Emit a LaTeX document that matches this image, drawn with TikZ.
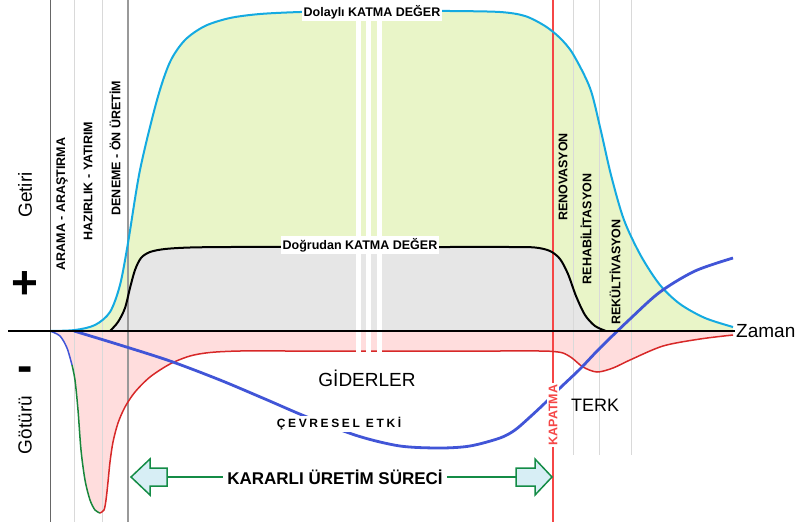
\documentclass[tikz,border=0pt]{standalone}
\usepackage{fontspec}
\setmainfont{Liberation Sans}
\newfontfamily\spacedfont[LetterSpace=22]{Liberation Sans}

\definecolor{dolayli}{RGB}{20,170,225}
\definecolor{dolaylifill}{RGB}{233,245,200}
\definecolor{dogrudanfill}{RGB}{230,230,230}
\definecolor{giderfill}{RGB}{255,221,221}
\definecolor{gider}{RGB}{215,40,40}
\definecolor{cevre}{RGB}{65,85,215}
\definecolor{yatirim}{RGB}{25,135,60}
\definecolor{kapatma}{RGB}{245,70,70}
\definecolor{surec}{RGB}{20,140,70}
\definecolor{surecfill}{RGB}{215,238,245}

\tikzset{
	phase/.style={rotate=90, inner sep=1pt, font=\bfseries\fontsize{12.5}{14}\selectfont},
	tag/.style={fill=white, inner sep=2pt, font=\bfseries\fontsize{12.5}{14}\selectfont},
	side/.style={rotate=90, inner sep=1pt, font=\fontsize{19}{21}\selectfont},
	divider/.style={draw=black!15, line width=1pt},
	curve/.style={line width=2pt, line join=round},
	arrowhead/.style={draw=surec, fill=surecfill, line width=1.5pt, line join=miter}
}

\def\dolaylipts{(50,331) (75,330) (95,325) (110,312) (120,285) (128,243) (140,170) (157,100) (170,62) (185,40) (205,26) (230,18) (260,14) (300,12) (350,11) (400,11) (450,11) (500,12) (525,16) (545,26) (560,38) (573,54) (590,88) (600,127) (611,175) (624,220) (641,256) (660,285) (680,304) (705,318) (733,327)}
\def\dogrudanpts{(110,331) (118,322) (125,308) (130,288) (135,270) (141,258) (150,252) (165,249) (190,247.5) (230,247) (300,247) (370,247) (440,247) (510,247) (535,247.5) (550,251) (560,259) (568,274) (576,296) (585,315) (595,326) (606,331)}
\def\giderpts{(100,513) (104,510) (106,500) (108,482) (110,462) (113,442) (118,423) (125,407) (135,392) (150,377) (170,364) (190,356) (210,352.5) (240,351) (290,351) (350,351) (420,351) (490,351) (540,351) (553,351.5) (563,353) (572,358) (583,367) (597,372) (613,368) (630,360) (663,346) (700,339) (733,335)}

\begin{document}
\begin{tikzpicture}[x=1pt,y=-1pt]
	\useasboundingbox (0,0) rectangle (802,522);

	% value areas above the time axis, cost area below
	\fill[dolaylifill] plot[smooth] coordinates {\dolaylipts} -- (733,331) -- cycle;
	\fill[dogrudanfill] plot[smooth] coordinates {\dogrudanpts} -- cycle;
	\fill[giderfill] plot[smooth] coordinates {(50,331) (60,336) (67,348) (72,365) (75,380) (78,410) (81,450) (85,480) (90,500) (95,510) \giderpts} -- (733,331) -- cycle;

	% phase dividers
	\foreach \x in {74,102} \draw[divider] (\x,0) -- (\x,522);
	\foreach \x in {573,599,631} \draw[divider] (\x,0) -- (\x,455);
	\draw[black!60, line width=1pt] (50,0) -- (50,522);
	\draw[black!40, line width=1.5pt] (128,0) -- (128,522);
	\draw[kapatma, line width=1.2pt] (553,0) -- (553,522);

	% curves
	\draw[curve, dolayli] plot[smooth] coordinates {\dolaylipts};
	\draw[curve, black] plot[smooth] coordinates {\dogrudanpts};
	\draw[curve, cevre, line width=1.5pt] plot[smooth] coordinates {(50,331) (60,336) (67,348) (72,365)};
	\draw[curve, yatirim, line width=1.5pt] plot[smooth] coordinates {(72,365) (75,380) (78,410) (81,450) (85,480) (90,500) (95,510) (100,513)};
	\draw[curve, gider, line width=1.5pt] plot[smooth] coordinates {\giderpts};

	% time break
	\foreach \x in {356,366,377} \fill[white] (\x,18) rectangle ++(5,339);

	\draw[curve, cevre, line width=2.8pt] plot[smooth] coordinates {(74,331) (120,345) (170,361) (220,380) (265,399) (307,417) (358,436) (400,446) (440,448) (470,446) (500,438) (515,430) (530,417) (545,403) (560,388) (580,369) (600,348) (630,319) (660,292) (695,271) (733,258)};

	% axis
	\node (zaman) [anchor=west, inner sep=1pt, font=\fontsize{19}{21}\selectfont] at (735,331) {Zaman};
	\draw[line width=1.5pt] (8,331) -- (zaman.west);

	\node (getiri) [side] at (25,195) {Getiri};
	\node (gotur) [side] at (25,425) {Götürü};
	\node (arti) [inner sep=0pt, font=\bfseries\fontsize{46}{46}\selectfont] at (25,285) {+};
	\node (eksi) [inner sep=0pt, font=\bfseries\fontsize{46}{46}\selectfont] at (25,374) {-};

	% phases
	\node (arama) [phase] at (62,204) {ARAMA - ARAŞTIRMA};
	\node (hazirlik) [phase] at (88,181) {HAZIRLIK - YATIRIM};
	\node (deneme) [phase] at (115,148) {DENEME - ÖN ÜRETİM};
	\node (renovasyon) [phase] at (563,177) {RENOVASYON};
	\node (rehab) [phase] at (586,229) {REHABİLİTASYON};
	\node (rekult) [phase] at (615,272) {REKÜLTİVASYON};
	\node (kapat) [phase, fill=white, text=kapatma, inner sep=2pt] at (553,415) {KAPATMA};

	\node (dolayli) [tag] at (372,12) {Dolaylı KATMA DEĞER};
	\node (dogrudan) [tag] at (360,245) {Doğrudan KATMA DEĞER};
	\node (giderler) [font=\fontsize{19}{21}\selectfont] at (367,378) {GİDERLER};
	\node (cevresel) [fill=white, inner sep=2pt, font=\spacedfont\bfseries\fontsize{12}{14}\selectfont] at (339,424) {ÇEVRESEL ETKİ};
	\node (terk) [font=\fontsize{18}{20}\selectfont] at (595,405) {TERK};

	% steady production period
	\node (kararli) [inner sep=4pt, font=\bfseries\fontsize{17}{19}\selectfont] at (335,477) {KARARLI ÜRETİM SÜRECİ};
	\coordinate (solgovde) at (167,477);
	\coordinate (saggovde) at (516,477);
	\draw[arrowhead] (131,477) -- (150,459) -- (150,468) -- (167,468) -- (167,486) -- (150,486) -- (150,495) -- cycle;
	\draw[arrowhead] (552,477) -- (535,459) -- (535,468) -- (516,468) -- (516,486) -- (535,486) -- (535,495) -- cycle;
	\draw[surec, line width=1.5pt] (solgovde) -- (kararli.west);
	\draw[surec, line width=1.5pt] (kararli.east) -- (saggovde);
\end{tikzpicture}
\end{document}
